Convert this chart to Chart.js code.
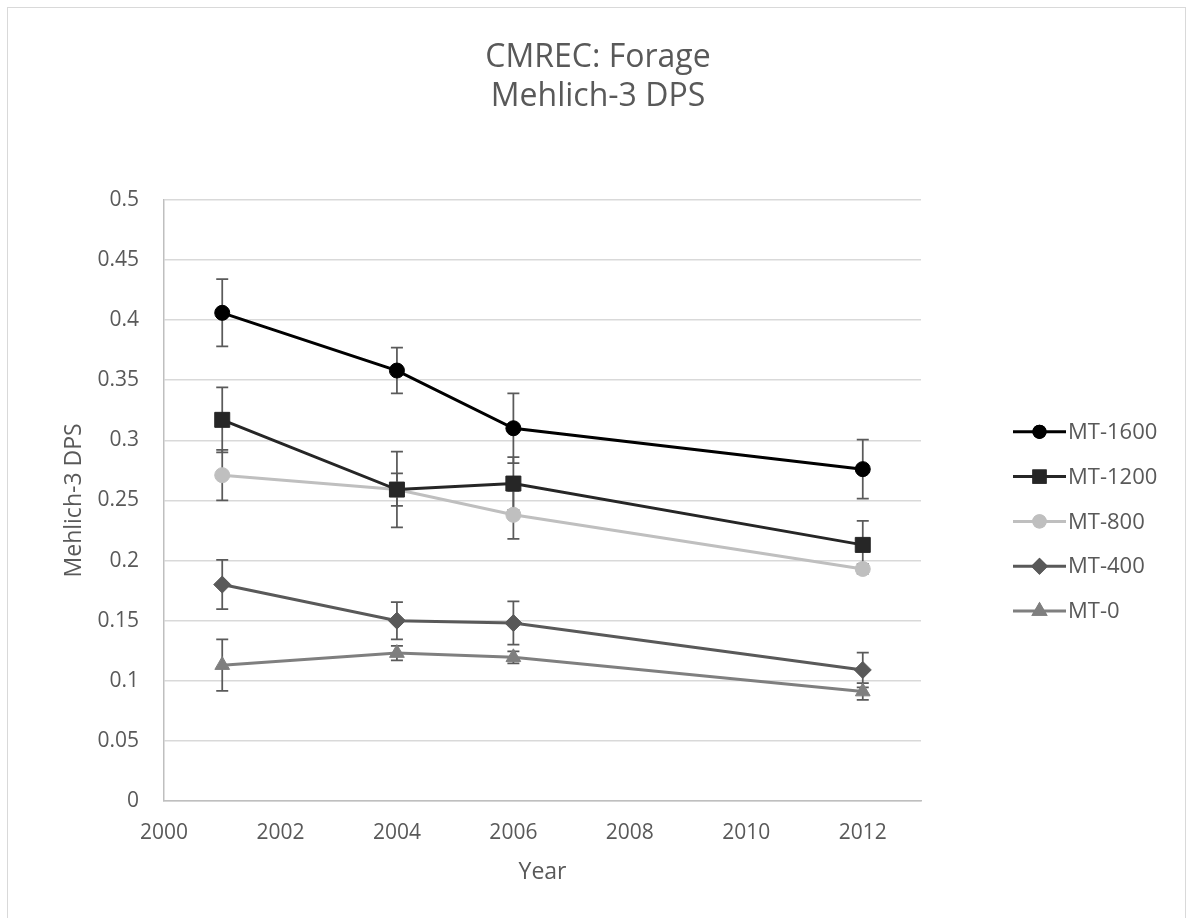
<!DOCTYPE html>
<html>
<head>
<meta charset="utf-8">
<script src="https://cdn.jsdelivr.net/npm/chart.js@4"></script>
<style>
  body { margin: 0; background: #fff; }
  #frame { position: absolute; left: 7px; top: 7px; width: 1177px; height: 960px; border: 1px solid #d9d9d9; border-bottom: none; }
  #chart { position: absolute; left: 0; top: 0; }
</style>
</head>
<body>
<div id="frame"></div>
<canvas id="chart" width="1186" height="918"></canvas>
<script>
const years = [2001, 2004, 2006, 2012];
const seriesNames = ['MT-1600', 'MT-1200', 'MT-800', 'MT-400', 'MT-0'];
const mt1600 = [0.406, 0.358, 0.310, 0.276];
const mt1200 = [0.317, 0.259, 0.264, 0.213];
const mt800 = [0.271, 0.259, 0.238, 0.193];
const mt400 = [0.180, 0.150, 0.148, 0.109];
const mt0 = [0.113, 0.123, 0.1195, 0.091];
const err1600 = [0.028, 0.019, 0.029, 0.0245];
const err1200 = [0.027, 0.0135, 0.022, 0.020];
const err800 = [0.021, 0.0315, 0.020, 0.004];
const err400 = [0.0205, 0.0155, 0.018, 0.0145];
const err0 = [0.0215, 0.006, 0.005, 0.007];
const xTicks = [2000, 2002, 2004, 2006, 2008, 2010, 2012];
const yTicks = [0, 0.05, 0.1, 0.15, 0.2, 0.25, 0.3, 0.35, 0.4, 0.45, 0.5];

const FONT = "'Open Sans', sans-serif";
const TXT = '#595959';

function pts(vals, errs) {
    return years.map((x, i) => ({ x: x, y: vals[i], err: errs[i] }));
}

function series(i, vals, errs, color, style, radius) {
    return {
        label: seriesNames[i],
        data: pts(vals, errs),
        borderColor: color,
        backgroundColor: color,
        borderWidth: 3,
        pointStyle: style,
        pointRadius: radius,
        pointBorderWidth: 1,
        pointBorderColor: color,
        pointBackgroundColor: color,
        legendRadius: radius * 0.75,
        showLine: true,
        tension: 0
    };
}

// error bars drawn under the lines, using the chart's own scales
const errorBars = {
    id: 'errorBars',
    beforeDatasetsDraw(chart) {
        const ctx = chart.ctx;
        const xs = chart.scales.x, ys = chart.scales.y;
        ctx.save();
        ctx.strokeStyle = '#5a5a5a';
        ctx.lineWidth = 1.75;
        chart.data.datasets.forEach(ds => {
            ds.data.forEach(p => {
                const px = xs.getPixelForValue(p.x);
                const top = ys.getPixelForValue(p.y + p.err);
                const bot = ys.getPixelForValue(p.y - p.err);
                ctx.beginPath();
                ctx.moveTo(px, top); ctx.lineTo(px, bot);
                ctx.moveTo(px - 6, top); ctx.lineTo(px + 6, top);
                ctx.moveTo(px - 6, bot); ctx.lineTo(px + 6, bot);
                ctx.stroke();
            });
        });
        ctx.restore();
    }
};

// Excel-like legend: line with marker, placed right of the plot
const sideLegend = {
    id: 'sideLegend',
    afterDraw(chart) {
        const ctx = chart.ctx;
        const area = chart.chartArea;
        const x0 = area.right + 92;
        const yMid = (area.top + area.bottom) / 2 + 21;
        const step = 44.8;
        ctx.save();
        chart.data.datasets.forEach((ds, i) => {
            const y = yMid + (i - 2) * step;
            ctx.strokeStyle = ds.borderColor;
            ctx.lineWidth = 3;
            ctx.beginPath();
            ctx.moveTo(x0, y); ctx.lineTo(x0 + 53, y);
            ctx.stroke();
            ctx.fillStyle = ds.backgroundColor;
            Chart.helpers.drawPoint(ctx, {
                pointStyle: ds.pointStyle, radius: ds.legendRadius, borderWidth: 1, rotation: 0
            }, x0 + 26.5, y);
            ctx.fill();
            ctx.stroke();
            ctx.fillStyle = TXT;
            ctx.font = '22px ' + FONT;
            ctx.textBaseline = 'middle';
            ctx.textAlign = 'left';
            ctx.fillText(ds.label, x0 + 55, y + 1);
        });
        ctx.restore();
    }
};

new Chart(document.getElementById('chart'), {
    type: 'scatter',
    data: {
        datasets: [
            series(0, mt1600, err1600, '#000000', 'circle', 7.5),
            series(1, mt1200, err1200, '#262626', 'rect', 10.6),
            series(2, mt800, err800, '#bfbfbf', 'circle', 7.5),
            series(3, mt400, err400, '#595959', 'rectRot', 8.5),
            series(4, mt0, err0, '#7f7f7f', 'triangle', 8.5)
        ]
    },
    options: {
        responsive: false,
        animation: false,
        devicePixelRatio: 1,
        layout: { padding: { left: 10, right: 0, top: 0, bottom: 0 } },
        plugins: {
            legend: { display: false },
            tooltip: { enabled: false },
            title: {
                display: true,
                text: ['CMREC: Forage', 'Mehlich-3 DPS'],
                color: TXT,
                font: { family: FONT, size: 32, weight: 'normal', lineHeight: 1.2 },
                padding: { top: 39, bottom: 84 }
            }
        },
        scales: {
            x: {
                type: 'linear',
                min: 2000,
                max: 2013,
                afterBuildTicks(s) { s.ticks = xTicks.map(v => ({ value: v })); },
                afterFit(s) { s.height = 117; },
                ticks: {
                    color: TXT,
                    font: { family: FONT, size: 21 },
                    padding: 19,
                    maxRotation: 0,
                    callback: v => String(v)
                },
                grid: { display: false, drawTicks: false },
                border: { display: true, color: '#bfbfbf', width: 1.5 },
                title: {
                    display: true,
                    text: 'Year',
                    color: TXT,
                    font: { family: FONT, size: 23 },
                    padding: { top: 0, bottom: 32 }
                }
            },
            y: {
                min: 0,
                max: 0.5,
                afterBuildTicks(s) { s.ticks = yTicks.map(v => ({ value: v })); },
                afterFit(s) { s.width = 154; },
                ticks: {
                    color: TXT,
                    font: { family: FONT, size: 21 },
                    padding: 25,
                    callback: v => String(Math.round(v * 100) / 100)
                },
                grid: { color: '#d9d9d9', lineWidth: 1.5, drawTicks: false },
                border: { display: true, color: '#bfbfbf', width: 1.5 },
                title: {
                    display: true,
                    text: 'Mehlich-3 DPS',
                    color: TXT,
                    font: { family: FONT, size: 23 },
                    padding: { top: 51, bottom: 0 }
                }
            },
            yRight: {
                type: 'linear',
                position: 'right',
                display: true,
                grid: { display: false, drawTicks: false },
                border: { display: false },
                ticks: { display: false },
                afterFit(s) { s.width = 265; }
            }
        }
    },
    plugins: [errorBars, sideLegend]
});
</script>
</body>
</html>
